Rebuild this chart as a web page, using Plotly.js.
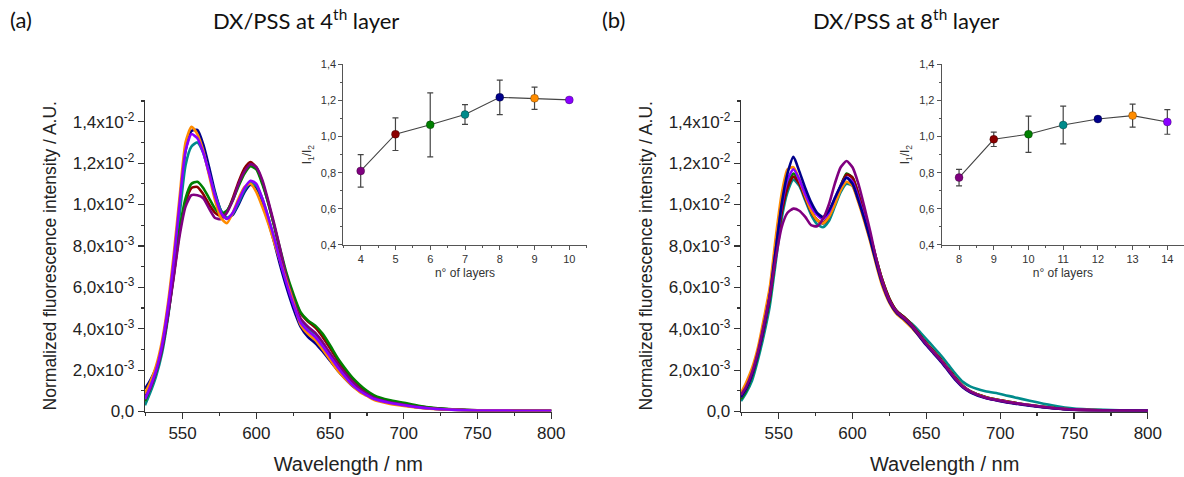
<!DOCTYPE html>
<html>
<head>
<meta charset="utf-8">
<script src="https://cdn.plot.ly/plotly-3.0.1.min.js"></script>
<style>html,body{margin:0;padding:0;background:#fff;}#chart{width:1184px;height:477px;}</style>
</head>
<body>
<div id="chart"></div>
<script>
// Wavelength grid (nm) shared by all spectra
const wl = [524.5,528,532,536,540,544,548,552,556,560,564,568,572,576,580,584,588,592,596,600,604,608,612,616,620,625,630,635,640,645,650,655,660,665,670,675,680,690,700,710,720,735,750,775,800];

// Panel (a) spectra, values in units of 1e-3
const a_navy   = [1.1,1.5,2.1,3.2,4.9,7.2,10.0,12.6,13.55,13.6,12.9,11.8,10.6,9.7,9.35,9.5,10.0,10.6,10.95,10.8,10.1,9.2,8.2,7.1,6.1,5.0,4.1,3.6,3.3,2.9,2.45,2.0,1.6,1.25,1.0,0.8,0.6,0.42,0.3,0.2,0.13,0.08,0.05,0.04,0.03];
const a_teal   = [0.3,0.9,1.7,2.8,4.5,6.8,9.5,11.9,12.8,13.0,12.5,11.5,10.5,9.7,9.35,9.55,10.1,10.7,11.05,10.9,10.3,9.4,8.4,7.4,6.4,5.3,4.4,4.0,3.75,3.3,2.8,2.3,1.85,1.45,1.12,0.88,0.68,0.47,0.33,0.22,0.15,0.09,0.06,0.04,0.04];
const a_darkred= [0.7,1.2,2.0,3.1,4.7,6.6,8.7,10.1,10.8,10.85,10.5,10.0,9.6,9.45,9.65,10.3,11.1,11.75,12.05,11.8,11.1,10.1,9.0,7.8,6.7,5.6,4.75,4.35,4.05,3.6,3.05,2.5,2.0,1.55,1.2,0.95,0.72,0.5,0.38,0.25,0.16,0.09,0.06,0.04,0.04];
const a_green  = [0.5,1.1,1.9,3.0,4.6,6.6,8.8,10.3,11.0,11.1,10.8,10.3,9.8,9.55,9.7,10.2,10.9,11.5,11.85,11.7,11.0,10.1,9.0,7.9,6.8,5.7,4.8,4.4,4.15,3.75,3.2,2.6,2.1,1.65,1.3,1.0,0.78,0.55,0.42,0.28,0.18,0.1,0.06,0.04,0.04];
const a_purple = [0.6,1.1,1.9,3.0,4.6,6.5,8.5,9.9,10.45,10.45,10.3,9.8,9.35,9.3,9.6,10.2,11.0,11.6,11.95,11.8,11.2,10.2,9.1,7.9,6.6,5.4,4.5,4.1,3.8,3.35,2.8,2.3,1.85,1.45,1.1,0.85,0.65,0.45,0.33,0.22,0.14,0.08,0.05,0.04,0.04];
const a_orange = [0.9,1.4,2.2,3.4,5.2,7.6,10.4,13.0,13.75,13.4,12.6,11.4,10.2,9.35,9.1,9.6,10.3,10.85,11.0,10.6,9.9,9.1,8.2,7.3,6.4,5.3,4.2,3.75,3.45,3.0,2.5,2.0,1.6,1.25,0.95,0.75,0.55,0.38,0.27,0.18,0.12,0.08,0.05,0.04,0.03];
const a_violet = [0.6,1.2,2.0,3.2,5.0,7.3,10.1,12.6,13.4,13.2,12.5,11.5,10.4,9.6,9.3,9.6,10.2,10.8,11.15,11.0,10.3,9.4,8.4,7.3,6.3,5.2,4.3,3.9,3.6,3.15,2.65,2.15,1.7,1.3,1.0,0.78,0.6,0.42,0.3,0.2,0.13,0.08,0.05,0.04,0.04];

// Panel (b) spectra, values in units of 1e-3
const b_navy   = [0.7,1.1,1.8,2.8,4.1,5.6,7.8,10.0,11.5,12.3,11.6,10.8,10.1,9.6,9.4,9.7,10.3,10.9,11.3,11.0,10.2,9.3,8.3,7.2,6.2,5.3,4.75,4.45,4.1,3.65,3.2,2.8,2.4,1.95,1.5,1.15,0.92,0.65,0.5,0.38,0.28,0.16,0.08,0.05,0.04];
const b_orange = [0.9,1.4,2.1,3.1,4.5,6.0,8.4,10.5,11.7,11.8,11.2,10.4,9.7,9.25,9.1,9.4,10.0,10.7,11.1,10.9,10.1,9.2,8.2,7.1,6.1,5.25,4.7,4.4,4.05,3.65,3.25,2.85,2.45,2.0,1.55,1.2,0.95,0.68,0.52,0.4,0.3,0.17,0.09,0.05,0.04];
const b_violet = [0.7,1.1,1.8,2.8,4.1,5.6,7.8,9.9,11.2,11.7,11.2,10.5,9.9,9.5,9.3,9.6,10.3,10.9,11.3,11.1,10.3,9.4,8.4,7.3,6.3,5.35,4.8,4.5,4.15,3.7,3.25,2.85,2.45,2.0,1.55,1.18,0.95,0.67,0.52,0.4,0.3,0.17,0.09,0.05,0.04];
const b_green  = [0.6,1.0,1.7,2.7,4.0,5.4,7.5,9.6,10.9,11.5,11.1,10.4,9.7,9.25,9.1,9.4,10.1,10.9,11.5,11.3,10.5,9.5,8.5,7.4,6.4,5.45,4.85,4.55,4.2,3.75,3.3,2.9,2.5,2.05,1.6,1.22,0.97,0.7,0.54,0.42,0.31,0.18,0.09,0.05,0.04];
const b_darkred= [0.7,1.1,1.8,2.8,4.0,5.5,7.6,9.6,10.8,11.35,11.0,10.3,9.65,9.25,9.1,9.4,10.1,10.9,11.45,11.3,10.5,9.5,8.5,7.4,6.4,5.45,4.85,4.55,4.2,3.75,3.3,2.9,2.5,2.05,1.6,1.22,0.97,0.7,0.54,0.42,0.31,0.18,0.09,0.05,0.04];
const b_teal   = [0.5,0.9,1.5,2.5,3.7,5.1,7.2,9.3,10.6,11.2,10.9,10.2,9.5,9.05,8.9,9.2,9.9,10.6,11.0,10.9,10.2,9.3,8.3,7.3,6.3,5.4,4.85,4.55,4.25,3.9,3.5,3.1,2.7,2.25,1.8,1.42,1.2,0.98,0.85,0.68,0.52,0.3,0.14,0.07,0.05];
const b_purple = [0.8,1.2,1.9,2.9,4.2,5.6,7.4,8.9,9.6,9.8,9.7,9.4,9.0,8.95,9.3,10.0,11.0,11.8,12.1,11.8,11.0,9.9,8.7,7.4,6.3,5.35,4.8,4.5,4.15,3.7,3.25,2.85,2.45,2.0,1.55,1.18,0.95,0.67,0.52,0.4,0.3,0.17,0.09,0.05,0.04];

// Insets: I1/I2 vs number of layers
const layers_a = [4,5,6,7,8,9,10];
const ratio_a  = [0.81,1.013,1.065,1.122,1.217,1.212,1.203];
const err_a    = [0.09,0.09,0.177,0.055,0.095,0.062,0.008];
const layers_b = [8,9,10,11,12,13,14];
const ratio_b  = [0.773,0.985,1.013,1.064,1.097,1.116,1.081];
const err_b    = [0.046,0.04,0.10,0.104,0.01,0.064,0.068];

// Main y-axis ticks (units of 1e-3)
const yTickVals = [0,2,4,6,8,10,12,14];
const yTickText = ['0,0','2,0x10<sup>-3</sup>','4,0x10<sup>-3</sup>','6,0x10<sup>-3</sup>','8,0x10<sup>-3</sup>','1,0x10<sup>-2</sup>','1,2x10<sup>-2</sup>','1,4x10<sup>-2</sup>'];
const yMinorVals = [1,3,5,7,9,11,13,15];

const C = {navy:'#00008b', teal:'#008b8b', darkred:'#8b0000', green:'#008000', purple:'#800080', orange:'#ff8c00', violet:'#8a00ff'};
const pointColors = [C.purple, C.darkred, C.green, C.teal, C.navy, C.orange, C.violet];

function spec(y, color, xa, ya) {
  return {x: wl, y: y, type:'scatter', mode:'lines', xaxis:xa, yaxis:ya,
          line:{color:color, width:2.6, shape:'spline', smoothing:0.6}, hoverinfo:'skip', showlegend:false};
}
const traces = [];
[[a_navy,C.navy],[a_teal,C.teal],[a_darkred,C.darkred],[a_green,C.green],[a_purple,C.purple],[a_orange,C.orange],[a_violet,C.violet]]
  .forEach(([y,c]) => traces.push(spec(y,c,'x','y')));
[[b_teal,C.teal],[b_green,C.green],[b_darkred,C.darkred],[b_orange,C.orange],[b_violet,C.violet],[b_navy,C.navy],[b_purple,C.purple]]
  .forEach(([y,c]) => traces.push(spec(y,c,'x2','y2')));

function inset(xs, ys, es, xa, ya) {
  traces.push({x:xs, y:ys, type:'scatter', mode:'lines', xaxis:xa, yaxis:ya,
    line:{color:'#444', width:1.1}, showlegend:false, hoverinfo:'skip'});
  traces.push({x:xs, y:ys, type:'scatter', mode:'markers', xaxis:xa, yaxis:ya,
    error_y:{type:'data', array:es, visible:true, color:'#444', thickness:1.2, width:3},
    marker:{color:pointColors, size:8, line:{color:'rgba(0,0,0,0.45)', width:0.6}},
    showlegend:false, hoverinfo:'skip'});
}
inset(layers_a, ratio_a, err_a, 'x3', 'y3');
inset(layers_b, ratio_b, err_b, 'x4', 'y4');

const axFont = {family:'Liberation Sans, Arial, sans-serif', size:17, color:'#222'};
const inFont = {family:'Liberation Sans, Arial, sans-serif', size:11, color:'#333'};
const yDom = [0.1373, 0.7904];
function mainX(dom, anchor) {
  return {domain:dom, anchor:anchor, range:[524.5,800.3], showline:true, linecolor:'#333', linewidth:1.3,
    ticks:'outside', ticklen:6, tickwidth:1.2, tickcolor:'#333', tick0:0, dtick:50,
    minor:{dtick:25, ticklen:3, tickwidth:1.2, tickcolor:'#333', ticks:'outside'},
    showgrid:false, zeroline:false, tickfont:axFont,
    title:{text:'Wavelength / nm', font:{family:'Liberation Sans, Arial, sans-serif', size:20, color:'#222'}, standoff:14}};
}
function mainY(anchor) {
  return {domain:yDom, anchor:anchor, range:[0,15.05], showline:true, linecolor:'#333', linewidth:1.3,
    ticks:'outside', ticklen:6, tickwidth:1.2, tickcolor:'#333', tickmode:'array', tickvals:yTickVals, ticktext:yTickText,
    minor:{tickmode:'array', tickvals:yMinorVals, ticklen:3, tickwidth:1.2, tickcolor:'#333', ticks:'outside'},
    showgrid:false, zeroline:false, tickfont:axFont,
    title:{text:'Normalized fluorescence intensity / A.U.', font:{family:'Liberation Sans, Arial, sans-serif', size:17.5, color:'#222'}, standoff:11}};
}
const inYDom = [0.4864, 0.8652];
function inX(dom, range, anchor) {
  return {domain:dom, anchor:anchor, range:range, showline:true, linecolor:'#555', linewidth:1,
    ticks:'outside', ticklen:4, tickwidth:1, tickcolor:'#555', dtick:1,
    minor:{dtick:0.5, ticklen:2, tickwidth:1, tickcolor:'#555', ticks:'outside'},
    showgrid:false, zeroline:false, tickfont:inFont,
    title:{text:'n° of layers', font:{family:'Liberation Sans, Arial, sans-serif', size:12, color:'#333'}, standoff:4}};
}
function inY(anchor) {
  return {domain:inYDom, anchor:anchor, range:[0.4,1.4], showline:true, linecolor:'#555', linewidth:1,
    ticks:'outside', ticklen:4, tickwidth:1, tickcolor:'#555', tick0:0.4, dtick:0.2, tickformat:'.1f',
    minor:{dtick:0.1, ticklen:2, tickwidth:1, tickcolor:'#555', ticks:'outside'},
    showgrid:false, zeroline:false, tickfont:inFont,
    title:{text:'I<sub>1</sub>/I<sub>2</sub>', font:{family:'Liberation Sans, Arial, sans-serif', size:12, color:'#333'}, standoff:6}};
}

const titleFont = {family:'Lato, Carlito, sans-serif', size:22, color:'#111'};
const layout = {
  width:1184, height:477, autosize:false, margin:{l:0,r:0,t:0,b:0},
  paper_bgcolor:'#fff', plot_bgcolor:'rgba(0,0,0,0)', separators:', ', showlegend:false,
  xaxis: mainX([0.12247,0.46596],'y'), yaxis: mainY('x'),
  xaxis2: mainX([0.62584,0.96985],'y2'), yaxis2: mainY('x2'),
  xaxis3: inX([0.28995,0.49552],[3.5,10.5],'y3'), yaxis3: inY('x3'),
  xaxis4: inX([0.79535,1.0],[7.5,14.48],'y4'), yaxis4: inY('x4'),
  annotations:[
    {text:'(a)', x:8/1184, y:1-20/477, xref:'paper', yref:'paper', xanchor:'left', yanchor:'middle', showarrow:false, font:titleFont},
    {text:'DX/PSS at 4<sup>th</sup> layer', x:306/1184, y:1-20/477, xref:'paper', yref:'paper', xanchor:'center', yanchor:'middle', showarrow:false, font:titleFont},
    {text:'(b)', x:600/1184, y:1-20/477, xref:'paper', yref:'paper', xanchor:'left', yanchor:'middle', showarrow:false, font:titleFont},
    {text:'DX/PSS at 8<sup>th</sup> layer', x:906/1184, y:1-20/477, xref:'paper', yref:'paper', xanchor:'center', yanchor:'middle', showarrow:false, font:titleFont}
  ]
};
Plotly.newPlot('chart', traces, layout, {staticPlot:true, displayModeBar:false});
</script>
</body>
</html>
